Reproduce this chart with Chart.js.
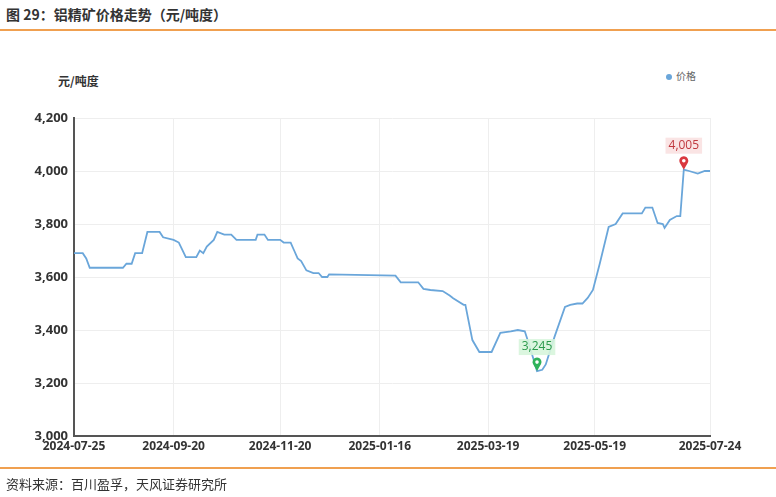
<!DOCTYPE html>
<html>
<head>
<meta charset="utf-8">
<script src="https://cdn.jsdelivr.net/npm/chart.js@4"></script>
<style>
  body { margin: 0; background: #fff; font-family: "Noto Sans CJK SC", sans-serif; }
  #wrap { position: relative; width: 776px; height: 497px; overflow: hidden; }
  .title { position: absolute; left: 6px; top: 4px; font-size: 14px; font-weight: bold; color: #333; }
  .rule { position: absolute; left: 0; width: 776px; height: 2px; background: #f0a050; }
  .source { position: absolute; left: 6px; top: 474px; font-size: 13px; color: #333; }
  .unit { position: absolute; left: 58px; top: 72px; font-size: 12px; font-weight: bold; color: #333; }
  .legend { position: absolute; left: 666px; top: 68px; font-size: 10px; color: #666; }
  .legend i { display: inline-block; width: 6px; height: 6px; border-radius: 3px; background: #6aa6da; margin-right: 4px; }
  #chartBox { position: absolute; left: 0; top: 0; width: 776px; height: 497px; }
</style>
</head>
<body>
<div id="wrap">
  <div class="title">图 29：铝精矿价格走势（元/吨度）</div>
  <div class="rule" style="top:29px"></div>
  <div class="unit">元/吨度</div>
  <div class="legend"><i></i>价格</div>
  <div id="chartBox"><canvas id="priceChart"></canvas></div>
  <div class="rule" style="top:467px"></div>
  <div class="source">资料来源：百川盈孚，天风证券研究所</div>
</div>
<script>
// days since 2024-07-25
const dayOffsets = [0, 5, 7, 9, 28, 30, 33, 35, 39, 42, 49, 51, 57, 60, 64, 70, 72, 74, 76, 80, 82, 86, 90, 93, 104, 105, 109, 111, 118, 120, 124, 126, 128, 130, 133, 137, 140, 142, 145, 146, 184, 187, 197, 200, 204, 211, 215, 217, 223, 224, 228, 232, 239, 244, 250, 254, 258, 260, 263, 265, 268, 270, 275, 281, 284, 288, 291, 294, 297, 301, 306, 310, 314, 325, 327, 331, 334, 337, 338, 341, 345, 347, 349, 352, 357, 361, 364];
const prices = [3690, 3690, 3670, 3635, 3635, 3650, 3650, 3690, 3690, 3770, 3770, 3750, 3740, 3730, 3675, 3675, 3700, 3690, 3715, 3740, 3770, 3760, 3760, 3740, 3740, 3760, 3760, 3740, 3740, 3730, 3730, 3700, 3670, 3660, 3625, 3615, 3615, 3600, 3600, 3610, 3605, 3580, 3580, 3555, 3551, 3547, 3530, 3520, 3495, 3495, 3362, 3317, 3317, 3389, 3395, 3400, 3395, 3355, 3290, 3245, 3250, 3270, 3374, 3487, 3495, 3500, 3500, 3521, 3551, 3653, 3789, 3800, 3840, 3840, 3862, 3862, 3804, 3800, 3785, 3815, 3830, 3830, 4005, 4000, 3990, 4000, 4000];
const tickDays = [0, 57, 118, 175, 237, 298, 364];
const tickLabels = ['2024-07-25', '2024-09-20', '2024-11-20', '2025-01-16', '2025-03-19', '2025-05-19', '2025-07-24'];

const points = dayOffsets.map((d, i) => ({ x: d, y: prices[i] }));

// draw max / min pins with value boxes
const pinPlugin = {
  id: 'pins',
  afterDatasetsDraw(chart) {
    const ctx = chart.ctx;
    const xs = chart.scales.x, ys = chart.scales.y;
    const maxI = prices.indexOf(Math.max(...prices));
    const minI = prices.indexOf(Math.min(...prices));
    const marks = [
      { i: maxI, color: '#d9383f', text: '#c0393f', bg: 'rgba(250,225,225,0.9)' },
      { i: minI, color: '#2fb35a', text: '#2a9a4c', bg: 'rgba(215,245,220,0.9)' }
    ];
    marks.forEach(m => {
      const px = xs.getPixelForValue(dayOffsets[m.i]);
      const py = ys.getPixelForValue(prices[m.i]);
      ctx.save();
      ctx.fillStyle = m.color;
      ctx.beginPath();
      ctx.arc(px, py - 9, 4.5, Math.PI * 0.85, Math.PI * 2.15);
      ctx.lineTo(px, py);
      ctx.closePath();
      ctx.fill();
      ctx.fillStyle = '#fff';
      ctx.beginPath();
      ctx.arc(px, py - 9, 1.8, 0, Math.PI * 2);
      ctx.fill();
      const label = prices[m.i].toLocaleString('en-US');
      ctx.font = '12px "Open Sans", sans-serif';
      const w = ctx.measureText(label).width + 6;
      ctx.fillStyle = m.bg;
      ctx.fillRect(px - w / 2, py - 32, w, 16);
      ctx.fillStyle = m.text;
      ctx.textAlign = 'center';
      ctx.textBaseline = 'middle';
      ctx.fillText(label, px, py - 24);
      ctx.restore();
    });
  }
};

new Chart(document.getElementById('priceChart'), {
  type: 'line',
  data: {
    datasets: [{
      label: '价格',
      data: points,
      borderColor: '#6aa6da',
      borderWidth: 1.8,
      pointRadius: 0,
      tension: 0
    }]
  },
  options: {
    responsive: true,
    maintainAspectRatio: false,
    animation: false,
    layout: { padding: { left: 0, top: 118, right: 66, bottom: 37 } },
    plugins: { legend: { display: false }, tooltip: { enabled: false } },
    scales: {
      x: {
        type: 'linear',
        min: 0,
        max: 364,
        afterFit(axis) { axis.height = 24; },
        afterBuildTicks(axis) { axis.ticks = tickDays.map(v => ({ value: v })); },
        ticks: {
          autoSkip: false,
          maxRotation: 0,
          color: '#333',
          font: { size: 12, weight: 'bold', family: '"Open Sans", sans-serif' },
          callback: (v) => tickLabels[tickDays.indexOf(v)] || ''
        },
        grid: { color: '#eeeeee', drawTicks: false },
        border: { color: '#555', width: 2 }
      },
      y: {
        min: 3000,
        max: 4200,
        afterFit(axis) { axis.width = 74; },
        ticks: {
          stepSize: 200,
          padding: 6,
          color: '#333',
          font: { size: 13, weight: 'bold', family: '"Open Sans", sans-serif' },
          callback: (v) => v.toLocaleString('en-US')
        },
        grid: { color: '#eeeeee', drawTicks: false },
        border: { color: '#555', width: 2 }
      }
    }
  },
  plugins: [pinPlugin]
});
</script>
</body>
</html>
